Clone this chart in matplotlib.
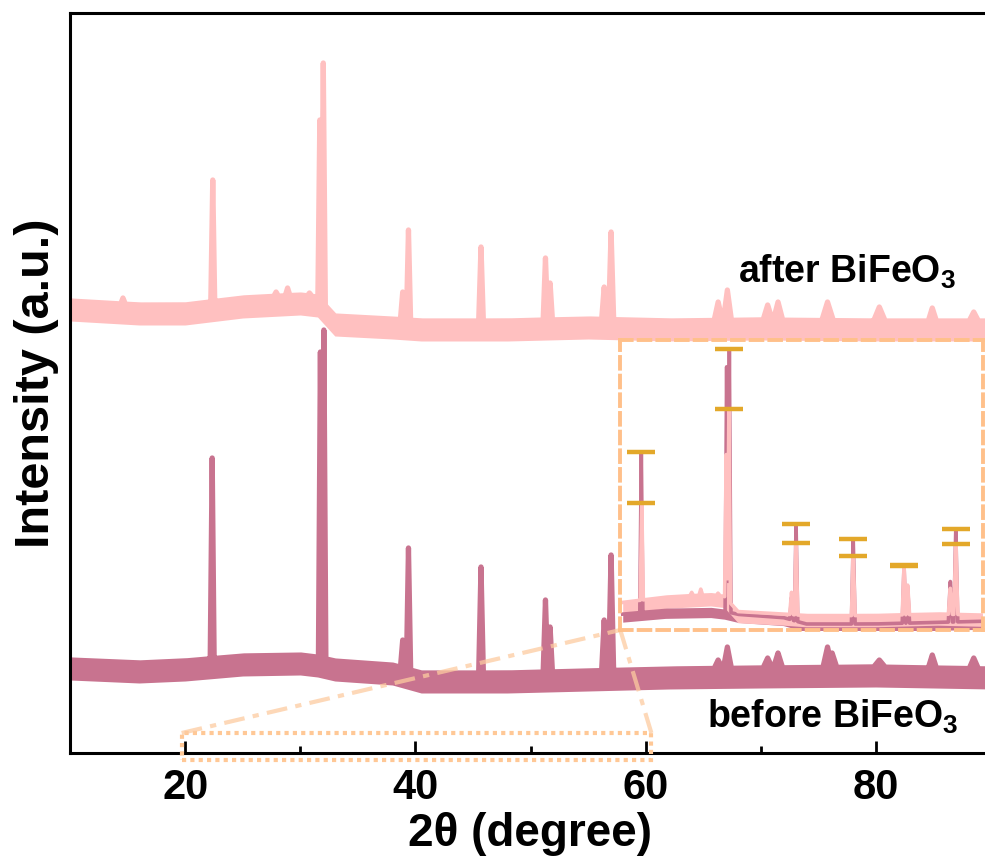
import numpy as np
import matplotlib
matplotlib.use("Agg")
import matplotlib.pyplot as plt
from matplotlib.patches import Rectangle

plt.rcParams['font.family'] = ['Liberation Sans', 'DejaVu Sans']
plt.rcParams['font.weight'] = 'bold'
plt.rcParams['mathtext.fontset'] = 'custom'
plt.rcParams['mathtext.rm'] = 'Liberation Sans:bold'
plt.rcParams['mathtext.it'] = 'Liberation Sans:bold'
plt.rcParams['mathtext.bf'] = 'Liberation Sans:bold'

# ---------------- data (intensity in arbitrary units, offset traces) ----------------
base_x = [10, 16, 20, 25, 30, 31.5, 33, 38, 40.5, 48, 55, 62, 70, 80, 90]
before_base = [93, 90, 92, 97, 98, 96, 92, 88, 80, 80, 82, 84, 85, 86, 84]
after_base = [452, 448, 448, 455, 458, 456, 437, 434, 432, 432, 434, 432, 433, 432, 432]

before_peak_pos = [22.35, 31.75, 32.05, 38.9, 39.4, 45.7, 51.3, 51.7, 56.4, 57.0,
                   66.3, 67.1, 70.6, 71.5, 75.8, 76.2, 80.3, 84.9, 88.5]
before_peak_top = [295, 401, 423, 113, 205, 186, 153, 126, 133, 198,
                   93, 106, 95, 100, 106, 100, 93, 98, 95]
before_peak_hw = [0.17, 0.17, 0.17, 0.2, 0.18, 0.2, 0.2, 0.2, 0.22, 0.22,
                  0.35, 0.35, 0.4, 0.4, 0.4, 0.4, 0.5, 0.35, 0.4]

after_peak_pos = [14.6, 22.4, 27.9, 28.9, 30.8, 31.7, 32.0, 38.9, 39.4, 45.7, 51.3,
                  51.7, 56.4, 57.0, 66.3, 67.1, 70.6, 71.5, 75.8, 80.3, 84.9, 88.5]
after_peak_top = [455, 573, 461, 465, 460, 633, 690, 461, 523, 506, 495,
                  470, 466, 521, 451, 463, 448, 451, 451, 446, 445, 441]
after_peak_hw = [0.2, 0.17, 0.2, 0.2, 0.2, 0.17, 0.17, 0.2, 0.18, 0.2, 0.2,
                 0.2, 0.22, 0.22, 0.35, 0.35, 0.4, 0.4, 0.5, 0.5, 0.35, 0.4]

# peaks compared in the inset (2θ) and vertical shift used there
inset_before_peaks = [22.35, 32.05, 39.4, 45.7, 51.3, 57.0]
inset_after_peaks = [22.4, 32.0, 39.4, 45.7, 51.3, 57.0]
before_shift = 72.5
after_shift = 414

xticks_major = [20, 40, 60, 80]
xticks_minor = [30, 50, 70]

# ---------------- styling ----------------
c_before = '#C8738F'
c_after = '#FFC0C0'
c_frame = '#FFC08A'
c_bar = '#E3A82A'


def profile(xg, pos, top, hw, bx, by):
    y = np.interp(xg, bx, by)
    for p, t, w in zip(pos, top, hw):
        b = np.interp(p, bx, by)
        y = np.maximum(y, t - (t - b) * np.abs(xg - p) / w)
    return y


xg = np.linspace(10, 90, 16001)
y_before = profile(xg, before_peak_pos, before_peak_top, before_peak_hw, base_x, before_base)
y_after = profile(xg, after_peak_pos, after_peak_top, after_peak_hw, base_x, after_base)
b_before = np.interp(xg, base_x, before_base)
b_after = np.interp(xg, base_x, after_base)

fig = plt.figure(figsize=(9.85, 8.66), dpi=100)
ax = fig.add_axes([70 / 985, 113 / 866, 921 / 985, 740 / 866])

band = 20
ax.fill_between(xg, b_before - band, y_before, color=c_before, lw=0)
ax.plot(xg, y_before, color=c_before, lw=3.8, solid_joinstyle='round')
ax.fill_between(xg, b_after - band, y_after, color=c_after, lw=0)
ax.plot(xg, y_after, color=c_after, lw=3.8, solid_joinstyle='round')

ax.set_xlim(10, 90)
ax.set_ylim(0, 740)
ax.set_xticks(xticks_major)
ax.set_xticks(xticks_minor, minor=True)
ax.set_yticks([])
ax.tick_params(axis='x', which='major', direction='in', length=9, width=2,
               labelsize=30, pad=11)
ax.tick_params(axis='x', which='minor', direction='in', length=5, width=2)
for lab in ax.get_xticklabels():
    lab.set_fontweight('bold')
for s in ['left', 'bottom', 'top', 'right']:
    ax.spines[s].set_linewidth(2.2)

ax.set_xlabel('2θ (degree)', fontsize=33, fontweight='bold', labelpad=3)
ax.set_ylabel('Intensity (a.u.)', fontsize=35, fontweight='bold', labelpad=8)

ax.text(68.0, 470, 'after BiFeO$_3$', fontsize=27, fontweight='bold', va='baseline', ha='left')
ax.text(65.3, 25, 'before BiFeO$_3$', fontsize=27, fontweight='bold', va='baseline', ha='left')

# dotted selection box on the axis and connector lines
ax.add_patch(Rectangle((19.7, -7), 40.8, 27, fill=False, ec='#FFC896', lw=3,
                       ls=(0, (1, 1)), clip_on=False, zorder=5))
ax.plot([19.7, 57.8], [20, 123], color='#FDCBA0', alpha=0.75, lw=3,
        ls=(0, (5, 2, 1.5, 2)), zorder=6, clip_on=False)
ax.plot([60.5, 57.8], [20, 123], color='#FDCBA0', alpha=0.75, lw=3,
        ls=(0, (5, 2, 1.5, 2)), zorder=6, clip_on=False)

# ---------------- inset ----------------
ins = fig.add_axes([620 / 985, 236 / 866, 363 / 985, 290 / 866])
ins.set_facecolor('none')
m = (xg >= 20.3) & (xg <= 59.9)
ins.fill_between(xg[m], b_before[m] - before_shift - 10, y_before[m] - before_shift,
                 color=c_before, lw=0)
ins.plot(xg[m], y_before[m] - before_shift, color=c_before, lw=2.6)
ins.fill_between(xg[m], b_after[m] - after_shift - 14, y_after[m] - after_shift,
                 color=c_after, lw=0)
ins.plot(xg[m], y_after[m] - after_shift, color=c_after, lw=2.6)

bt = [np.interp(p, xg, y_before) - before_shift for p in inset_before_peaks]
at = [np.interp(p, xg, y_after) - after_shift for p in inset_after_peaks]
ins.plot(inset_before_peaks, bt, ls='none', marker='_', ms=20, mew=3.2, color=c_bar, zorder=5)
ins.plot(inset_before_peaks, at, ls='none', marker='_', ms=20, mew=3.2, color=c_bar, zorder=5)

ins.set_xlim(20, 60)
ins.set_ylim(0, 362)
ins.set_xticks([])
ins.set_yticks([])
for s in ins.spines.values():
    s.set_color(c_frame)
    s.set_linewidth(2.8)
    s.set_linestyle((0, (3, 1.8)))

fig.savefig('out.png', dpi=100)
